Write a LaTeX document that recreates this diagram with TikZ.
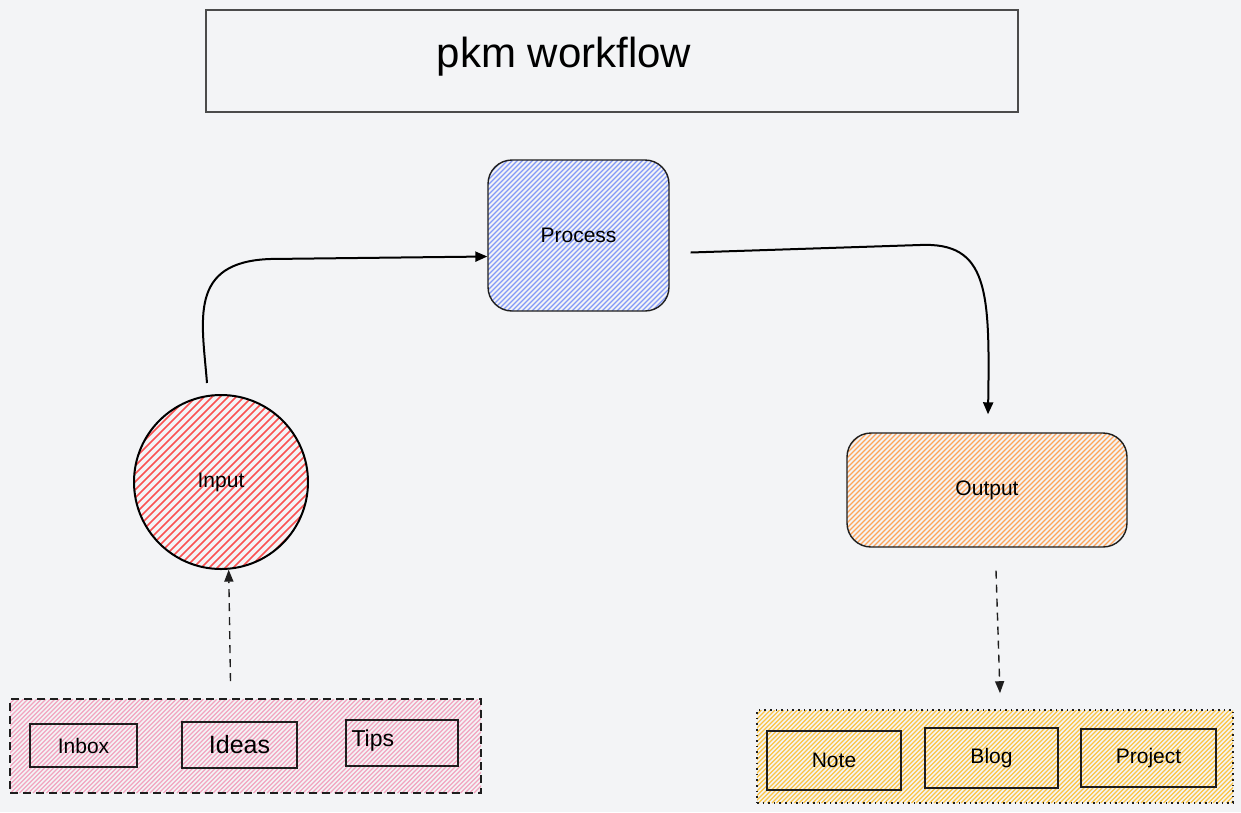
\documentclass[tikz,border=0pt]{standalone}
\usepackage{fontspec}
\setmainfont{Liberation Sans}
\usetikzlibrary{arrows.meta,calc}
\definecolor{bg}{RGB}{243,244,246}
\definecolor{hblue}{RGB}{76,110,245}
\definecolor{hred}{RGB}{250,82,82}
\definecolor{horange}{RGB}{253,126,20}
\definecolor{hpink}{RGB}{230,73,128}
\definecolor{hyellow}{RGB}{250,176,5}
\definecolor{ink}{RGB}{30,30,30}
\newcommand{\hatchit}[7]{\begin{scope}\clip #1;\foreach \xx in {#2,#3,...,#4}{\draw[#7] (\xx,#5) -- ++(#6,-#6);}\end{scope}}
\tikzset{
  lbl/.style={font=\fontsize{21}{25}\selectfont, text=black},
  mainbox/.style={draw=ink, line width=1.4pt, rounded corners=24pt, inner sep=0pt},
  itembox/.style={draw=ink, line width=1.1pt, inner sep=0pt},
  flow/.style={draw=black, line width=2pt, -{Triangle[length=12pt,width=10pt]}},
  dflow/.style={draw=ink, line width=1.4pt, dash pattern=on 8pt off 6pt, -{Triangle[length=12pt,width=9pt]}},
  hl/.style={draw=#1, line width=1.3pt},
}
\begin{document}
\begin{tikzpicture}[x=1pt,y=-1pt]
\fill[bg] (0,0) rectangle (1241,812);
\useasboundingbox (0,0) rectangle (1241,812);

% hatch fills
\hatchit{[rounded corners=24pt] (488,160) rectangle (669,311)}{337}{342}{669}{311}{151}{hl=hblue!70}
\hatchit{(221,482) circle[radius=87]}{-40}{-32}{308}{569}{174}{hl=hred, line width=1.6pt}
\hatchit{[rounded corners=24pt] (847,433) rectangle (1127,547)}{733}{738}{1127}{547}{114}{hl=horange!70}
\hatchit{(10,699) rectangle (481,793)}{-84}{-79.5}{481}{793}{94}{hl=hpink!50, line width=1.1pt}
\hatchit{(757,710) rectangle (1233,803)}{664}{668.5}{1233}{803}{93}{hl=hyellow!75, line width=1.2pt}

% title
\node[draw=ink!80, line width=1.2pt, minimum width=812pt, minimum height=102pt, inner sep=0pt] (title) at (612,61) {};
\node[font=\fontsize{42}{48}\selectfont] (ttext) at (564,57) {pkm workflow};

% main nodes
\node[mainbox, minimum width=181pt, minimum height=151pt, lbl] (pr) at (578.5,235.5) {Process};
\node[draw=black, line width=2pt, circle, minimum size=174pt, inner sep=0pt, lbl] (in) at (221,482) {Input};
\node[mainbox, minimum width=280pt, minimum height=114pt, lbl] (out) at (987,490) {Output};

% left group
\node[draw=ink, line width=1.8pt, dash pattern=on 8pt off 5pt, minimum width=471pt, minimum height=94pt, inner sep=0pt] (gl) at (245.5,746) {};
\node[itembox, minimum width=107pt, minimum height=43pt, lbl] (inbox) at (83.5,745.5) {Inbox};
\node[itembox, minimum width=115pt, minimum height=46pt, font=\fontsize{25}{29}\selectfont] (ideas) at (239.5,745) {Ideas};
\node[itembox, minimum width=112pt, minimum height=46pt] (tips) at (402,743) {};
\node[font=\fontsize{23}{27}\selectfont, anchor=west] (tipst) at (348,741) {Tips};

% right group
\node[draw=ink, line width=1.6pt, dash pattern=on 1.6pt off 4pt, minimum width=476pt, minimum height=93pt, inner sep=0pt] (gr) at (995,756.5) {};
\node[itembox, line width=1.8pt, minimum width=134pt, minimum height=59pt, lbl] (note) at (834,760.5) {Note};
\node[itembox, line width=1.8pt, minimum width=133pt, minimum height=60pt, lbl] (blog) at (991.5,758) {Blog};
\node[itembox, line width=1.8pt, minimum width=135pt, minimum height=58pt, lbl] (proj) at (1148.5,758) {Project};

% connectors
\draw[flow] ([xshift=-14pt,yshift=11pt]in.north) .. controls (202,320) and (188,262) .. (270,259) -- ([yshift=-21pt]pr.west);
\draw[flow] ([xshift=21pt,yshift=-17pt]pr.east) -- (920,245) .. controls (988,242) and (990,290) .. ([xshift=1pt,yshift=18pt]out.north);
\draw[dflow] ([xshift=-15pt,yshift=17pt]gl.north) -- (in.-85);
\draw[dflow] ([xshift=9pt,yshift=-23pt]out.south) -- ([xshift=5pt,yshift=16pt]gr.north);
\end{tikzpicture}
\end{document}
